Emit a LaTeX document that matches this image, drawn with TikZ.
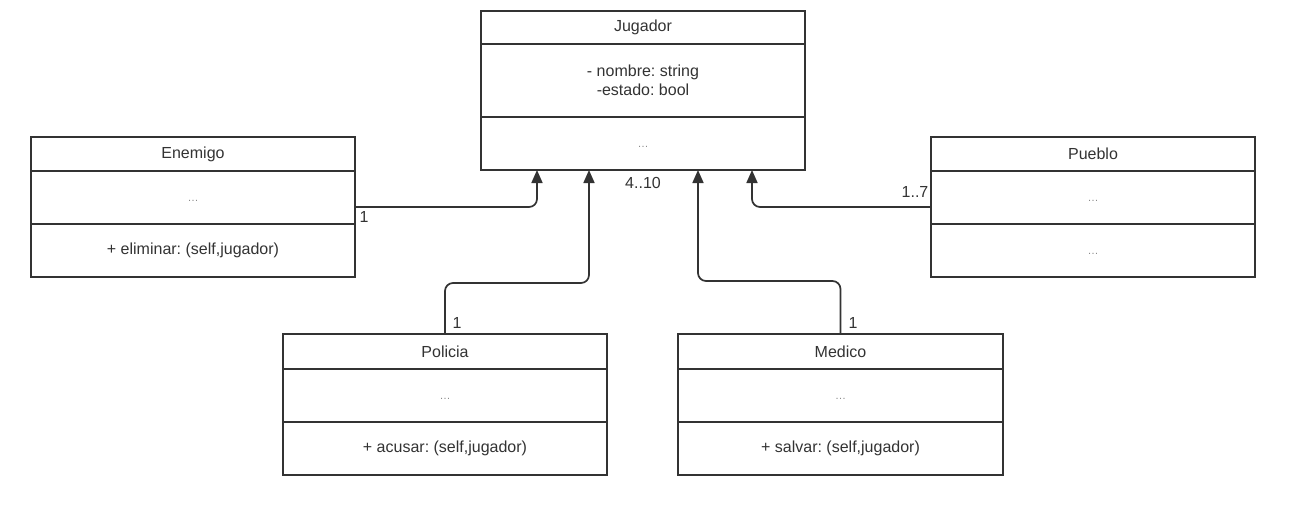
\documentclass[tikz,border=0pt]{standalone}
\usepackage{fontspec}
\setmainfont{Liberation Sans}
\usetikzlibrary{arrows.meta}
\definecolor{ink}{HTML}{333333}
\definecolor{dotc}{HTML}{8A8A8A}
\newcommand{\dotsbox}{\strut{\color{dotc}\fontsize{11}{12}\selectfont …}}
\frenchspacing
\begin{document}
\begin{tikzpicture}[x=1pt,y=-1pt,
  comp/.style={draw=ink, line width=1.7pt, minimum width=324pt, inner sep=0pt, outer sep=0pt,
    text=ink, font=\fontsize{16}{19}\selectfont, align=center, anchor=north west},
  conn/.style={draw=ink, line width=1.7pt, rounded corners=8pt, -{Triangle[width=11pt,length=13pt]}},
  mult/.style={text=ink, font=\fontsize{16}{19}\selectfont, inner sep=0pt}
]
\useasboundingbox (0,0) rectangle (1290,504);
\fill[white] (0,0) rectangle (1290,504);

% Jugador
\node[comp, minimum height=33pt] (jName) at (481,11) {Jugador};
\node[comp, minimum height=73pt] (jAttr) at (481,44) {- nombre: string\\-estado: bool};
\node[comp, minimum height=53pt] (jMeth) at (481,117) {\dotsbox};

% Enemigo
\node[comp, minimum height=34pt] (eName) at (31,137) {Enemigo};
\node[comp, minimum height=53pt] (eAttr) at (31,171) {\dotsbox};
\node[comp, minimum height=53pt] (eMeth) at (31,224) {+ eliminar: (self,jugador)};

% Pueblo
\node[comp, minimum height=34pt] (pueName) at (931,137) {Pueblo};
\node[comp, minimum height=53pt] (pueAttr) at (931,171) {\dotsbox};
\node[comp, minimum height=53pt] (pueMeth) at (931,224) {\dotsbox};

% Policia
\node[comp, minimum height=35pt] (pName) at (283,334) {Policia};
\node[comp, minimum height=53pt] (pAttr) at (283,369) {\dotsbox};
\node[comp, minimum height=53pt] (pMeth) at (283,422) {+ acusar: (self,jugador)};

% Medico
\node[comp, minimum height=35pt, minimum width=325pt] (mName) at (678,334) {Medico};
\node[comp, minimum height=53pt, minimum width=325pt] (mAttr) at (678,369) {\dotsbox};
\node[comp, minimum height=53pt, minimum width=325pt] (mMeth) at (678,422) {+ salvar: (self,jugador)};

% connectors
\draw[conn] ([yshift=-9.5pt]eAttr.east) -| ([xshift=-106pt]jMeth.south);
\draw[conn] (pName.north) -- ++(0,-51) -| ([xshift=-54pt]jMeth.south);
\draw[conn] (mName.north) -- ++(0,-53) -| ([xshift=55pt]jMeth.south);
\draw[conn] ([yshift=-9.5pt]pueAttr.west) -| ([xshift=109pt]jMeth.south);

% multiplicities
\node[mult] (mEn) at (364,217) {1};
\node[mult] (mJu) at (643,183) {4..10};
\node[mult] (mPu) at (915,192) {1..7};
\node[mult] (mPo) at (457,323) {1};
\node[mult] (mMe) at (853,323) {1};
\end{tikzpicture}
\end{document}
